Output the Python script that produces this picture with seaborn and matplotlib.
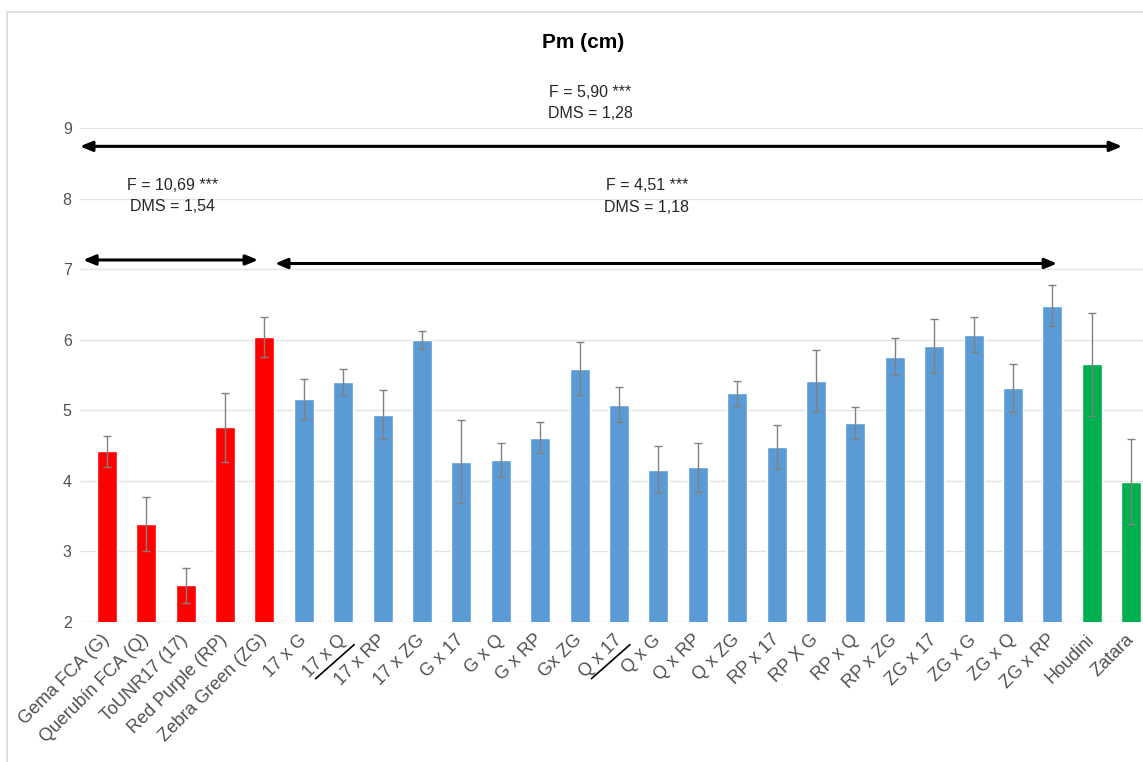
import matplotlib
matplotlib.use("Agg")
import matplotlib.pyplot as plt
import seaborn as sns
import pandas as pd
from matplotlib.lines import Line2D

categories = ["Gema FCA (G)", "Querubín FCA (Q)", "ToUNR17 (17)", "Red Purple (RP)", "Zebra Green (ZG)",
              "17 x G", "17 x Q", "17 x RP", "17 x ZG", "G x 17", "G x Q", "G x RP", "Gx ZG",
              "Q x 17", "Q x G", "Q x RP", "Q x ZG", "RP x 17", "RP X G", "RP x Q", "RP x ZG",
              "ZG x 17", "ZG x G", "ZG x Q", "ZG x RP", "Houdini", "Zatara"]
means = [4.42, 3.39, 2.52, 4.76, 6.04,
         5.16, 5.40, 4.94, 6.00, 4.27, 4.29, 4.61, 5.59,
         5.08, 4.16, 4.19, 5.24, 4.48, 5.42, 4.82, 5.76,
         5.91, 6.07, 5.31, 6.48, 5.65, 3.99]
errors = [0.22, 0.38, 0.25, 0.49, 0.28,
          0.29, 0.18, 0.35, 0.13, 0.59, 0.24, 0.22, 0.38,
          0.25, 0.33, 0.35, 0.18, 0.31, 0.43, 0.22, 0.26,
          0.38, 0.25, 0.34, 0.29, 0.73, 0.60]
groups = ["Parent"] * 5 + ["Cross"] * 20 + ["Commercial"] * 2
palette = {"Parent": "#FF0000", "Cross": "#5B9BD5", "Commercial": "#00B050"}
underlined = ["17 x Q", "Q x 17"]

sns.set_theme(style="white")
plt.rcParams["font.family"] = ["Liberation Sans", "DejaVu Sans"]

df = pd.DataFrame({"cat": categories, "val": means, "grp": groups})

fig = plt.figure(figsize=(11.43, 7.62), dpi=100)
W, H = 1143, 762
ax = fig.add_axes([80 / W, (H - 622) / H, (W - 80) / W, (622 - 128) / H])

sns.barplot(data=df, x="cat", y="val", hue="grp", palette=palette, dodge=False,
            width=0.51, errorbar=None, legend=False, ax=ax, order=categories,
            saturation=1)
ax.errorbar(x=list(range(len(categories))), y=means, yerr=errors, fmt="none",
            ecolor="#808080", elinewidth=1, capsize=3, capthick=1, zorder=5)

ax.set_ylim(2, 9)
ax.set_xlim(-0.68, 26.3)
ax.set_yticks(range(2, 10))
ax.yaxis.grid(True, color="#E3E3E3", linewidth=1)
ax.set_axisbelow(True)
for s in ax.spines.values():
    s.set_visible(False)
ax.set_xlabel("")
ax.set_ylabel("")
ax.tick_params(axis="y", length=0, pad=6, labelsize=11.5, labelcolor="#505050")
ax.tick_params(axis="x", length=0, pad=11, labelsize=13, labelcolor="#505050")
ax.set_xticks(range(len(categories)))
ax.set_xticklabels(categories, rotation=45, ha="right", rotation_mode="anchor", va="center")

# Annotation arrows
akw = dict(arrowstyle="<|-|>,head_length=0.6,head_width=0.25", color="black", lw=2.2,
           shrinkA=0, shrinkB=0)
ax.annotate("", xy=(25.77, 8.74), xytext=(-0.68, 8.74), arrowprops=akw, annotation_clip=False)
ax.annotate("", xy=(3.84, 7.13), xytext=(-0.6, 7.13), arrowprops=akw, annotation_clip=False)
ax.annotate("", xy=(24.12, 7.08), xytext=(4.27, 7.08), arrowprops=akw, annotation_clip=False)

tkw = dict(ha="center", va="center", fontsize=11.5, color="#262626", clip_on=False)
ax.text(12.27, 9.51, "F = 5,90 ***", **tkw)
ax.text(12.27, 9.21, "DMS = 1,28", **tkw)
ax.text(1.66, 8.19, "F = 10,69 ***", **tkw)
ax.text(1.66, 7.89, "DMS = 1,54", **tkw)
ax.text(13.71, 8.19, "F = 4,51 ***", **tkw)
ax.text(13.71, 7.88, "DMS = 1,18", **tkw)

fig.text(583 / W, 1 - 42 / H, "Pm (cm)", ha="center", va="center", fontsize=15,
         fontweight="bold", color="black")

# Chart border
bc = "#D9D9D9"
fig.add_artist(Line2D([7 / W, 7 / W], [0, 1 - 12 / H], color=bc, lw=1.2, transform=fig.transFigure))
fig.add_artist(Line2D([7 / W, 1], [1 - 12 / H, 1 - 12 / H], color=bc, lw=1.2, transform=fig.transFigure))

# Hand-drawn underlines below two labels
fig.canvas.draw()
renderer = fig.canvas.get_renderer()
for lab in ax.get_xticklabels():
    if lab.get_text() in underlined:
        bb = lab.get_window_extent(renderer)
        w, h = bb.width, bb.height
        x0, y0 = bb.x0 + 0.32 * w, bb.y0 + 2
        x1, y1 = bb.x1 + 5, bb.y1 - 0.27 * h
        fig.add_artist(Line2D([x0 / W, x1 / W], [y0 / H, y1 / H], color="black", lw=1.2,
                              transform=fig.transFigure))

fig.savefig("out.png", dpi=100)
